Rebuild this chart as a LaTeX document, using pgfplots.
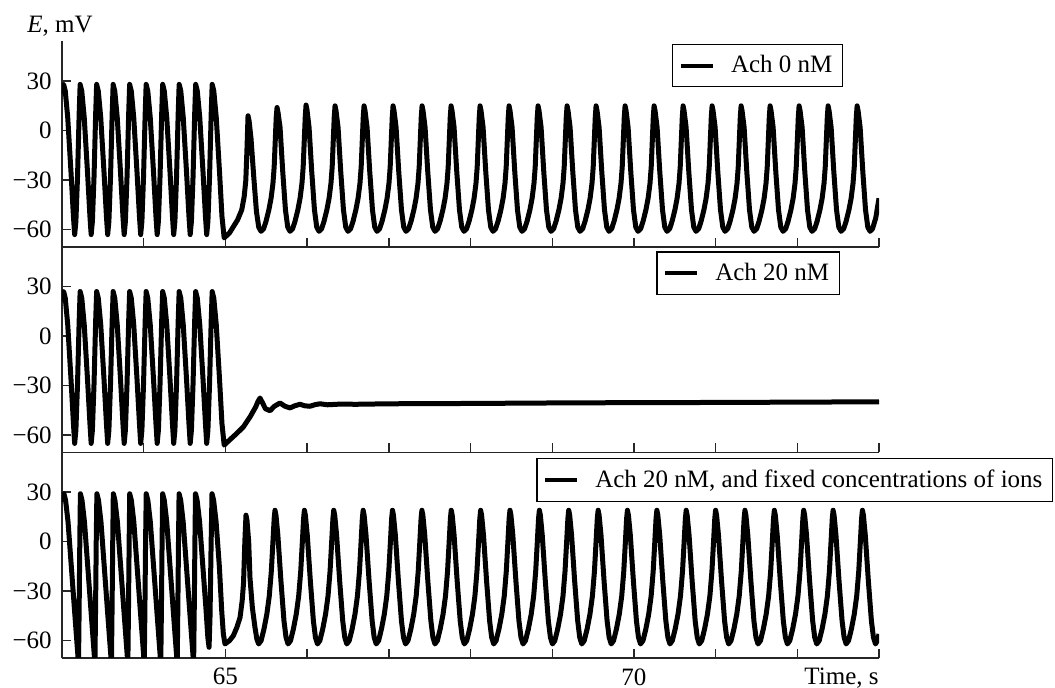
\documentclass[border=0pt]{standalone}
\usepackage{fontspec}
\setmainfont{Liberation Serif}
\usepackage{pgfplots}
\pgfplotsset{compat=1.18}

\newcommand\lbl{\fontsize{12.5}{14}\selectfont}

\pgfplotsset{
  panel/.style={
    scale only axis, width=408.5pt, height=102.75pt,
    xmin=63, xmax=73, ymin=-70.5, ymax=54,
    clip mode=individual,
    axis x line*=bottom, axis y line*=left,
    axis line style={line width=0.7pt, black!85},
    xtick={63,...,73}, xticklabels={},
    ytick={-60,-30,0,30}, yticklabels={−60,−30,0,30},
    major tick length=4.5pt,
    tick style={line width=0.7pt, black!85},
    tick label style={font=\lbl},
    yticklabel style={inner sep=0pt, xshift=-5pt},
    xticklabel style={inner sep=0pt, yshift=-5pt},
    legend style={draw=black, line width=0.6pt, anchor=north east, font=\lbl,
      inner xsep=3pt, inner ysep=3.5pt,
      /tikz/every odd column/.append style={column sep=6pt}},
    legend image code/.code={\draw[line width=2.2pt] (3pt,0pt) -- (19pt,0pt);},
  },
  trace/.style={black, line width=2.5pt, line join=round, no marks},
}

\begin{document}
\begin{tikzpicture}

% top panel: Ach 0 nM
\begin{axis}[panel, at={(0pt,205.5pt)}, anchor=south west,
  legend style={at={(0.956,0.988)}}]
\addplot[trace] coordinates {
(63.000,22) (63.010,27)
(63.020,28) (63.040,24) (63.070,8) (63.110,-25) (63.140,-52) (63.155,-63) (63.170,-55) (63.190,-28) (63.210,10)
(63.222,28) (63.242,24) (63.272,8) (63.312,-25) (63.342,-52) (63.357,-63) (63.372,-55) (63.392,-28) (63.412,10)
(63.424,28) (63.444,24) (63.474,8) (63.514,-25) (63.544,-52) (63.559,-63) (63.574,-55) (63.594,-28) (63.614,10)
(63.626,28) (63.646,24) (63.676,8) (63.716,-25) (63.746,-52) (63.761,-63) (63.776,-55) (63.796,-28) (63.816,10)
(63.828,28) (63.848,24) (63.878,8) (63.918,-25) (63.948,-52) (63.963,-63) (63.978,-55) (63.998,-28) (64.018,10)
(64.030,28) (64.050,24) (64.080,8) (64.120,-25) (64.150,-52) (64.165,-63) (64.180,-55) (64.200,-28) (64.220,10)
(64.232,28) (64.252,24) (64.282,8) (64.322,-25) (64.352,-52) (64.367,-63) (64.382,-55) (64.402,-28) (64.422,10)
(64.434,28) (64.454,24) (64.484,8) (64.524,-25) (64.554,-52) (64.569,-63) (64.584,-55) (64.604,-28) (64.624,10)
(64.636,28) (64.656,24) (64.686,8) (64.726,-25) (64.756,-52) (64.771,-63) (64.786,-55) (64.806,-28) (64.826,10)
(64.838,28) (64.858,24) (64.888,8) (64.928,-25) (64.958,-52) (64.985,-65)
(65.050,-62) (65.100,-58) (65.150,-54) (65.200,-48) (65.230,-40) (65.250,-30) (65.265,-10) (65.277,9) (65.290,6)
(65.314,-5) (65.347,-28) (65.380,-49) (65.408,-58.5) (65.436,-61)
(65.467,-59.5) (65.497,-55) (65.532,-48) (65.559,-41) (65.582,-32) (65.597,-22) (65.612,-4) (65.622,8) (65.632,14) (65.644,11) (65.669,2) (65.702,-25) (65.735,-48) (65.763,-58.5) (65.791,-61)
(65.822,-59.5) (65.852,-55) (65.887,-48) (65.914,-41) (65.937,-32) (65.952,-22) (65.967,-4) (65.977,8) (65.987,15.5) (65.999,12.5) (66.024,2) (66.057,-25) (66.090,-48) (66.118,-58.5) (66.146,-61)
(66.177,-59.5) (66.207,-55) (66.242,-48) (66.269,-41) (66.292,-32) (66.307,-22) (66.322,-4) (66.332,8) (66.342,15) (66.354,12) (66.379,2) (66.412,-25) (66.445,-48) (66.473,-58.5) (66.501,-61)
(66.532,-59.5) (66.562,-55) (66.597,-48) (66.624,-41) (66.647,-32) (66.662,-22) (66.677,-4) (66.687,8) (66.697,15) (66.709,12) (66.734,2) (66.767,-25) (66.800,-48) (66.828,-58.5) (66.856,-61)
(66.887,-59.5) (66.917,-55) (66.952,-48) (66.979,-41) (67.002,-32) (67.017,-22) (67.032,-4) (67.042,8) (67.052,15) (67.064,12) (67.089,2) (67.122,-25) (67.155,-48) (67.183,-58.5) (67.211,-61)
(67.242,-59.5) (67.272,-55) (67.307,-48) (67.334,-41) (67.357,-32) (67.372,-22) (67.387,-4) (67.397,8) (67.407,15) (67.419,12) (67.444,2) (67.477,-25) (67.510,-48) (67.538,-58.5) (67.566,-61)
(67.597,-59.5) (67.627,-55) (67.662,-48) (67.689,-41) (67.712,-32) (67.727,-22) (67.742,-4) (67.752,8) (67.762,15) (67.774,12) (67.799,2) (67.832,-25) (67.865,-48) (67.893,-58.5) (67.921,-61)
(67.952,-59.5) (67.982,-55) (68.017,-48) (68.044,-41) (68.067,-32) (68.082,-22) (68.097,-4) (68.107,8) (68.117,15) (68.129,12) (68.154,2) (68.187,-25) (68.220,-48) (68.248,-58.5) (68.276,-61)
(68.307,-59.5) (68.337,-55) (68.372,-48) (68.399,-41) (68.422,-32) (68.437,-22) (68.452,-4) (68.462,8) (68.472,15) (68.484,12) (68.509,2) (68.542,-25) (68.575,-48) (68.603,-58.5) (68.631,-61)
(68.662,-59.5) (68.692,-55) (68.727,-48) (68.754,-41) (68.777,-32) (68.792,-22) (68.807,-4) (68.817,8) (68.827,15) (68.839,12) (68.864,2) (68.897,-25) (68.930,-48) (68.958,-58.5) (68.986,-61)
(69.017,-59.5) (69.047,-55) (69.082,-48) (69.109,-41) (69.132,-32) (69.147,-22) (69.162,-4) (69.172,8) (69.182,15) (69.194,12) (69.219,2) (69.252,-25) (69.285,-48) (69.313,-58.5) (69.341,-61)
(69.372,-59.5) (69.402,-55) (69.437,-48) (69.464,-41) (69.487,-32) (69.502,-22) (69.517,-4) (69.527,8) (69.537,15) (69.549,12) (69.574,2) (69.607,-25) (69.640,-48) (69.668,-58.5) (69.696,-61)
(69.727,-59.5) (69.757,-55) (69.792,-48) (69.819,-41) (69.842,-32) (69.857,-22) (69.872,-4) (69.882,8) (69.892,15) (69.904,12) (69.929,2) (69.962,-25) (69.995,-48) (70.023,-58.5) (70.051,-61)
(70.082,-59.5) (70.112,-55) (70.147,-48) (70.174,-41) (70.197,-32) (70.212,-22) (70.227,-4) (70.237,8) (70.247,15) (70.259,12) (70.284,2) (70.317,-25) (70.350,-48) (70.378,-58.5) (70.406,-61)
(70.437,-59.5) (70.467,-55) (70.502,-48) (70.529,-41) (70.552,-32) (70.567,-22) (70.582,-4) (70.592,8) (70.602,15) (70.614,12) (70.639,2) (70.672,-25) (70.705,-48) (70.733,-58.5) (70.761,-61)
(70.792,-59.5) (70.822,-55) (70.857,-48) (70.884,-41) (70.907,-32) (70.922,-22) (70.937,-4) (70.947,8) (70.957,15) (70.969,12) (70.994,2) (71.027,-25) (71.060,-48) (71.088,-58.5) (71.116,-61)
(71.147,-59.5) (71.177,-55) (71.212,-48) (71.239,-41) (71.262,-32) (71.277,-22) (71.292,-4) (71.302,8) (71.312,15) (71.324,12) (71.349,2) (71.382,-25) (71.415,-48) (71.443,-58.5) (71.471,-61)
(71.502,-59.5) (71.532,-55) (71.567,-48) (71.594,-41) (71.617,-32) (71.632,-22) (71.647,-4) (71.657,8) (71.667,15) (71.679,12) (71.704,2) (71.737,-25) (71.770,-48) (71.798,-58.5) (71.826,-61)
(71.857,-59.5) (71.887,-55) (71.922,-48) (71.949,-41) (71.972,-32) (71.987,-22) (72.002,-4) (72.012,8) (72.022,15) (72.034,12) (72.059,2) (72.092,-25) (72.125,-48) (72.153,-58.5) (72.181,-61)
(72.212,-59.5) (72.242,-55) (72.277,-48) (72.304,-41) (72.327,-32) (72.342,-22) (72.357,-4) (72.367,8) (72.377,15) (72.389,12) (72.414,2) (72.447,-25) (72.480,-48) (72.508,-58.5) (72.536,-61)
(72.567,-59.5) (72.597,-55) (72.632,-48) (72.659,-41) (72.682,-32) (72.697,-22) (72.712,-4) (72.722,8) (72.732,15) (72.744,12) (72.769,2) (72.802,-25) (72.835,-48) (72.863,-58.5) (72.891,-61)
(72.920,-59.5) (72.960,-53) (73.000,-41)
};
\addlegendentry{Ach 0 nM}
\node[anchor=base west, inner sep=0pt, font=\lbl, xshift=-17.5pt, yshift=4.25pt]
  at (rel axis cs:0,1) {\textit{E}, mV};
\end{axis}

% middle panel: Ach 20 nM
\begin{axis}[panel, at={(0pt,102.75pt)}, anchor=south west,
  legend style={at={(0.952,0.978)}}]
\addplot[trace] coordinates {
(63.000,21) (63.010,26)
(63.020,27) (63.040,23) (63.070,7) (63.110,-26) (63.140,-53) (63.155,-65) (63.170,-57) (63.190,-29) (63.210,9)
(63.222,27) (63.242,23) (63.272,7) (63.312,-26) (63.342,-53) (63.357,-65) (63.372,-57) (63.392,-29) (63.412,9)
(63.424,27) (63.444,23) (63.474,7) (63.514,-26) (63.544,-53) (63.559,-65) (63.574,-57) (63.594,-29) (63.614,9)
(63.626,27) (63.646,23) (63.676,7) (63.716,-26) (63.746,-53) (63.761,-65) (63.776,-57) (63.796,-29) (63.816,9)
(63.828,27) (63.848,23) (63.878,7) (63.918,-26) (63.948,-53) (63.963,-65) (63.978,-57) (63.998,-29) (64.018,9)
(64.030,27) (64.050,23) (64.080,7) (64.120,-26) (64.150,-53) (64.165,-65) (64.180,-57) (64.200,-29) (64.220,9)
(64.232,27) (64.252,23) (64.282,7) (64.322,-26) (64.352,-53) (64.367,-65) (64.382,-57) (64.402,-29) (64.422,9)
(64.434,27) (64.454,23) (64.484,7) (64.524,-26) (64.554,-53) (64.569,-65) (64.584,-57) (64.604,-29) (64.624,9)
(64.636,27) (64.656,23) (64.686,7) (64.726,-26) (64.756,-53) (64.771,-65) (64.786,-57) (64.806,-29) (64.826,9)
(64.838,27) (64.858,23) (64.888,7) (64.928,-26) (64.958,-53) (64.985,-66)
(65.050,-63) (65.138,-59) (65.220,-55) (65.301,-49) (65.370,-43) (65.400,-39.5) (65.424,-37.5) (65.450,-40)
(65.490,-44) (65.546,-45.2) (65.600,-42.5) (65.668,-40.5) (65.730,-42.5) (65.791,-43.5) (65.850,-42.2)
(65.913,-41.3) (65.970,-42.2) (66.035,-42.5) (66.100,-41.5) (66.158,-41) (66.250,-41.6) (66.400,-41.2)
(66.600,-41.3) (67.000,-41) (68.000,-40.8) (69.000,-40.5) (70.000,-40.3) (71.000,-40.2) (72.000,-40) (73.000,-39.8)
};
\addlegendentry{Ach 20 nM}
\end{axis}

% bottom panel: Ach 20 nM with fixed ion concentrations
\begin{axis}[panel, at={(0pt,0pt)}, anchor=south west,
  xticklabels={,,65,,,,,70,,,},
  xlabel={Time, s},
  xlabel style={at={(rel axis cs:1,0)}, anchor=north east, inner sep=0pt, yshift=-5pt, font=\lbl},
  legend style={at={(1.213,0.973)}}]
\addplot[trace] coordinates {
(63.000,24) (63.012,28)
(63.024,29) (63.044,25) (63.074,12) (63.114,-15) (63.154,-42) (63.184,-62) (63.202,-74) (63.210,-40) (63.218,0)
(63.225,29) (63.245,25) (63.275,12) (63.315,-15) (63.355,-42) (63.385,-62) (63.403,-74) (63.411,-40) (63.419,0)
(63.427,29) (63.447,25) (63.477,12) (63.517,-15) (63.557,-42) (63.587,-62) (63.605,-74) (63.613,-40) (63.621,0)
(63.628,29) (63.648,25) (63.678,12) (63.718,-15) (63.758,-42) (63.788,-62) (63.806,-74) (63.814,-40) (63.822,0)
(63.829,29) (63.849,25) (63.879,12) (63.919,-15) (63.959,-42) (63.989,-62) (64.007,-74) (64.015,-40) (64.023,0)
(64.031,29) (64.051,25) (64.081,12) (64.121,-15) (64.161,-42) (64.191,-62) (64.209,-74) (64.217,-40) (64.225,0)
(64.232,29) (64.252,25) (64.282,12) (64.322,-15) (64.362,-42) (64.392,-62) (64.410,-74) (64.418,-40) (64.426,0)
(64.433,29) (64.453,25) (64.483,12) (64.523,-15) (64.563,-42) (64.593,-62) (64.611,-74) (64.619,-40) (64.627,0)
(64.634,29) (64.654,25) (64.684,12) (64.724,-15) (64.764,-42) (64.785,-58) (64.800,-64) (64.812,-45) (64.824,-5)
(64.836,29) (64.856,25) (64.886,12) (64.926,-15) (64.955,-42) (64.975,-56) (64.995,-62)
(65.050,-60) (65.097,-57) (65.140,-52) (65.179,-46) (65.205,-36) (65.222,-25) (65.238,0) (65.252,16) (65.264,13)
(65.285,0) (65.301,-22) (65.330,-40) (65.362,-52) (65.385,-59) (65.407,-62)
(65.437,-60) (65.472,-53) (65.507,-44) (65.537,-33) (65.562,-18) (65.582,0) (65.597,14) (65.607,19) (65.619,16) (65.642,4) (65.680,-24) (65.717,-48) (65.742,-58) (65.767,-62)
(65.797,-60) (65.832,-53) (65.867,-44) (65.897,-33) (65.922,-18) (65.942,0) (65.957,14) (65.967,19) (65.979,16) (66.002,4) (66.040,-24) (66.077,-48) (66.102,-58) (66.127,-62)
(66.156,-60) (66.191,-53) (66.226,-44) (66.256,-33) (66.281,-18) (66.301,0) (66.316,14) (66.326,19) (66.338,16) (66.361,4) (66.399,-24) (66.436,-48) (66.461,-58) (66.486,-62)
(66.516,-60) (66.551,-53) (66.586,-44) (66.616,-33) (66.641,-18) (66.661,0) (66.676,14) (66.686,19) (66.698,16) (66.721,4) (66.759,-24) (66.796,-48) (66.821,-58) (66.846,-62)
(66.875,-60) (66.910,-53) (66.945,-44) (66.975,-33) (67.000,-18) (67.020,0) (67.035,14) (67.045,19) (67.057,16) (67.080,4) (67.118,-24) (67.155,-48) (67.180,-58) (67.205,-62)
(67.235,-60) (67.270,-53) (67.305,-44) (67.335,-33) (67.360,-18) (67.380,0) (67.395,14) (67.405,19) (67.417,16) (67.440,4) (67.478,-24) (67.515,-48) (67.540,-58) (67.565,-62)
(67.594,-60) (67.629,-53) (67.664,-44) (67.694,-33) (67.719,-18) (67.739,0) (67.754,14) (67.764,19) (67.776,16) (67.799,4) (67.837,-24) (67.874,-48) (67.899,-58) (67.924,-62)
(67.954,-60) (67.989,-53) (68.024,-44) (68.054,-33) (68.079,-18) (68.099,0) (68.114,14) (68.124,19) (68.136,16) (68.159,4) (68.197,-24) (68.234,-48) (68.259,-58) (68.284,-62)
(68.313,-60) (68.348,-53) (68.383,-44) (68.413,-33) (68.438,-18) (68.458,0) (68.473,14) (68.483,19) (68.495,16) (68.518,4) (68.556,-24) (68.593,-48) (68.618,-58) (68.643,-62)
(68.673,-60) (68.708,-53) (68.743,-44) (68.773,-33) (68.798,-18) (68.818,0) (68.833,14) (68.843,19) (68.855,16) (68.878,4) (68.916,-24) (68.953,-48) (68.978,-58) (69.003,-62)
(69.032,-60) (69.067,-53) (69.102,-44) (69.132,-33) (69.157,-18) (69.177,0) (69.192,14) (69.202,19) (69.214,16) (69.237,4) (69.275,-24) (69.312,-48) (69.337,-58) (69.362,-62)
(69.392,-60) (69.427,-53) (69.462,-44) (69.492,-33) (69.517,-18) (69.537,0) (69.552,14) (69.562,19) (69.574,16) (69.597,4) (69.635,-24) (69.672,-48) (69.697,-58) (69.722,-62)
(69.751,-60) (69.786,-53) (69.821,-44) (69.851,-33) (69.876,-18) (69.896,0) (69.911,14) (69.921,19) (69.933,16) (69.956,4) (69.994,-24) (70.031,-48) (70.056,-58) (70.081,-62)
(70.111,-60) (70.146,-53) (70.181,-44) (70.211,-33) (70.236,-18) (70.256,0) (70.271,14) (70.281,19) (70.293,16) (70.316,4) (70.354,-24) (70.391,-48) (70.416,-58) (70.441,-62)
(70.470,-60) (70.505,-53) (70.540,-44) (70.570,-33) (70.595,-18) (70.615,0) (70.630,14) (70.640,19) (70.652,16) (70.675,4) (70.713,-24) (70.750,-48) (70.775,-58) (70.800,-62)
(70.830,-60) (70.865,-53) (70.900,-44) (70.930,-33) (70.955,-18) (70.975,0) (70.990,14) (71.000,19) (71.012,16) (71.035,4) (71.073,-24) (71.110,-48) (71.135,-58) (71.160,-62)
(71.189,-60) (71.224,-53) (71.259,-44) (71.289,-33) (71.314,-18) (71.334,0) (71.349,14) (71.359,19) (71.371,16) (71.394,4) (71.432,-24) (71.469,-48) (71.494,-58) (71.519,-62)
(71.549,-60) (71.584,-53) (71.619,-44) (71.649,-33) (71.674,-18) (71.694,0) (71.709,14) (71.719,19) (71.731,16) (71.754,4) (71.792,-24) (71.829,-48) (71.854,-58) (71.879,-62)
(71.908,-60) (71.943,-53) (71.978,-44) (72.008,-33) (72.033,-18) (72.053,0) (72.068,14) (72.078,19) (72.090,16) (72.113,4) (72.151,-24) (72.188,-48) (72.213,-58) (72.238,-62)
(72.268,-60) (72.303,-53) (72.338,-44) (72.368,-33) (72.393,-18) (72.413,0) (72.428,14) (72.438,19) (72.450,16) (72.473,4) (72.511,-24) (72.548,-48) (72.573,-58) (72.598,-62)
(72.627,-60) (72.662,-53) (72.697,-44) (72.727,-33) (72.752,-18) (72.772,0) (72.787,14) (72.797,19) (72.809,16) (72.832,4) (72.870,-24) (72.907,-48) (72.932,-58) (72.957,-62)
(72.980,-60) (73.000,-56)
};
\addlegendentry{Ach 20 nM, and fixed concentrations of ions}
\end{axis}

\pgfresetboundingbox
\path[use as bounding box] (-31pt,-15pt) rectangle (496.5pt,329pt);
\end{tikzpicture}
\end{document}
